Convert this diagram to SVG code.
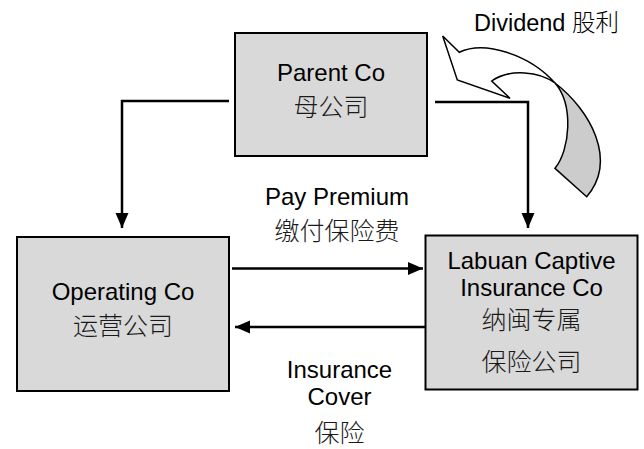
<svg xmlns="http://www.w3.org/2000/svg" width="644" height="449" viewBox="0 0 644 449">
<defs>
<style>
.box{fill:#d9d9d9;stroke:#000;stroke-width:2}
.t{font-family:"Liberation Sans","Noto Sans CJK SC",sans-serif;font-size:24px;fill:#000;text-anchor:middle}
.c{font-family:"Noto Sans CJK SC","Liberation Sans",sans-serif;font-size:25px;font-weight:300;fill:#1a1a1a;text-anchor:middle}
.conn{fill:none;stroke:#000;stroke-width:2.5}
</style>
<marker id="ah" markerUnits="userSpaceOnUse" markerWidth="16" markerHeight="14" refX="15" refY="6.5" orient="auto">
<path d="M0,0 L15,6.5 L0,13 Z" fill="#000"/>
</marker>
</defs>
<rect width="644" height="449" fill="#fff"/>
<g id="connectors">
<path class="conn" d="M229,101 H122 V228" marker-end="url(#ah)"/>
<path class="conn" d="M435,102 H528 V228" marker-end="url(#ah)"/>
<path class="conn" d="M232,268.5 H423" marker-end="url(#ah)"/>
<path class="conn" d="M425,327 H235" marker-end="url(#ah)"/>
</g>
<g id="parent">
<rect class="box" x="235" y="33" width="192" height="123"/>
<text class="t" x="331" y="81">Parent Co</text>
<text class="c" x="331" y="116">母公司</text>
</g>
<g id="operating">
<rect class="box" x="17" y="237" width="212" height="154"/>
<text class="t" x="123" y="300">Operating Co</text>
<text class="c" x="123" y="335">运营公司</text>
</g>
<g id="labuan">
<rect class="box" x="425.5" y="235.5" width="212" height="154"/>
<text class="t" x="531.5" y="269">Labuan Captive</text>
<text class="t" x="531.5" y="296">Insurance Co</text>
<text class="c" x="531.5" y="329">纳闽专属</text>
<text class="c" x="531.5" y="371">保险公司</text>
</g>
<g id="pay-label">
<text class="t" x="337" y="205">Pay Premium</text>
<text class="c" x="337" y="240">缴付保险费</text>
</g>
<g id="cover-label">
<text class="t" x="339.5" y="378">Insurance</text>
<text class="t" x="339.5" y="405">Cover</text>
<text class="c" x="339.5" y="442">保险</text>
</g>
<g id="dividend">
<path d="M555,83 C590,110 618,160 586.7,196.7 L555,168.3 C570,150 574,105 555,83 Z" fill="#cccccc" stroke="#000" stroke-width="1.5" stroke-linejoin="miter"/>
<path d="M442.7,36 L459.3,52.3 C485,40 530,55 555,83 C540,72 510,68 491.7,81 L510,98.3 L457.3,80 Z" fill="#fff" stroke="#000" stroke-width="1.5" stroke-linejoin="miter"/>
<text class="t" x="546.5" y="31" style="font-size:23.5px">Dividend <tspan style="font-weight:300">股利</tspan></text>
</g>
</svg>
